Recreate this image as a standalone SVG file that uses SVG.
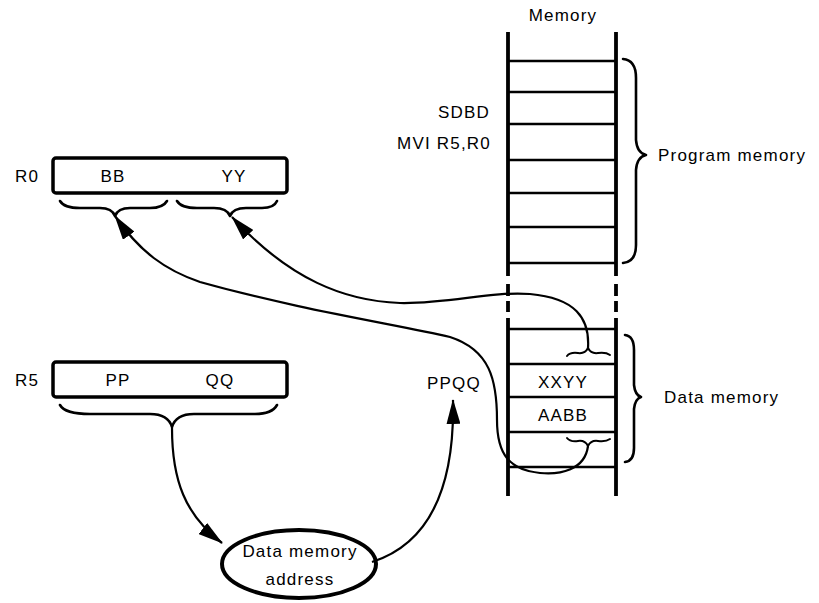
<svg xmlns="http://www.w3.org/2000/svg" width="819" height="603" viewBox="0 0 819 603">
<defs>
<style>
text{font-family:"Liberation Sans",Arial,sans-serif;font-size:17px;fill:#000;letter-spacing:1.2px}
.c{text-anchor:middle}
.r{text-anchor:end}
.col{stroke:#000;stroke-width:3.8;fill:none}
.row{stroke:#000;stroke-width:2.5;fill:none}
.reg{stroke:#000;stroke-width:3.5;fill:#fff}
.br{stroke:#000;stroke-width:2.6;fill:none;stroke-linecap:round;stroke-linejoin:round}
.sbr{stroke:#000;stroke-width:2;fill:none;stroke-linecap:round}
.conn{stroke:#000;stroke-width:2.2;fill:none}
</style>
<marker id="ah" viewBox="0 0 25 14" refX="24" refY="7" markerWidth="25" markerHeight="14" markerUnits="userSpaceOnUse" orient="auto">
<path d="M0,0 L25,7 L0,14 Z" fill="#000"/>
</marker>
</defs>
<rect width="819" height="603" fill="#fff"/>

<g id="memory">
<text class="c" x="563" y="21">Memory</text>
<path class="col" d="M508,32 V276 M508,284 V296 M508,301 V312 M508,318 V496"/>
<path class="col" d="M616,32 V276 M616,284 V296 M616,301 V312 M616,318 V496"/>
<path class="row" d="M508,61 H616 M508,92 H616 M508,124 H616 M508,160 H616 M508,193 H616 M508,227 H616 M508,263 H616"/>
<path class="row" d="M508,329 H616 M508,364 H616 M508,397 H616 M508,432 H616 M508,467 H616"/>
<text class="r" x="490" y="118">SDBD</text>
<text class="r" x="491" y="149">MVI R5,R0</text>
<text class="c" x="563" y="388">XXYY</text>
<text class="c" x="563" y="421">AABB</text>
<path class="sbr" d="M567,356 Q570,352 578,353 Q585,354 588,348 Q591,354 598,353 Q606,352 610,355"/>
<path class="sbr" d="M567,438 Q570,442 578,441 Q585,440 588,446 Q591,440 598,441 Q606,442 610,439"/>
</g>

<g id="program-memory">
<path class="br" d="M623,59 Q636,60 636,78 L636,140 Q637,153 646,155 Q637,157 636,170 L636,245 Q636,262 623,263"/>
<text x="658" y="161">Program memory</text>
</g>

<g id="data-memory">
<path class="br" d="M625,335 Q634,336 634,350 L634,385 Q635,395 641,397 Q635,399 634,409 L634,448 Q634,461 625,462"/>
<text x="664" y="403">Data memory</text>
</g>

<g id="r0">
<text x="15" y="182">R0</text>
<rect class="reg" x="53" y="158" width="234" height="35" rx="3"/>
<text class="c" x="113" y="182">BB</text>
<text class="c" x="234" y="182">YY</text>
<path class="br" d="M60,201 Q64,208 80,208 L100,208 Q112,208 115,216 Q118,208 130,208 L150,208 Q163,208 167,201"/>
<path class="br" d="M177,201 Q181,208 197,208 L214,208 Q227,208 230,216 Q233,208 246,208 L262,208 Q274,208 277,201"/>
</g>

<g id="r5">
<text x="15" y="386">R5</text>
<rect class="reg" x="53" y="362" width="234" height="35" rx="3"/>
<text class="c" x="118" y="386">PP</text>
<text class="c" x="220" y="386">QQ</text>
<path class="br" d="M60,405 Q65,414 90,414 L150,414 Q168,414 172,427 Q176,414 194,414 L255,414 Q272,414 277,405"/>
</g>

<g id="address">
<ellipse cx="299" cy="564" rx="77" ry="34" fill="#fff" stroke="#000" stroke-width="4"/>
<text class="c" x="300" y="557">Data memory</text>
<text class="c" x="300" y="585">address</text>
</g>

<g id="ppqq">
<text class="c" x="454" y="389">PPQQ</text>
</g>

<g id="connectors">
<path class="conn" marker-end="url(#ah)" d="M588,348 C590,318 575,298 530,294 C490,291 450,304 400,303 C345,301 290,280 232,217"/>
<path class="conn" marker-end="url(#ah)" d="M588,446 C585,470 560,475 540,473 C510,470 497,455 497,420 C497,380 490,350 450,337 C400,325 300,310 200,282 C165,270 140,252 115,216"/>
<path class="conn" marker-end="url(#ah)" d="M172,428 C172,480 185,515 222,543"/>
<path class="conn" marker-end="url(#ah)" d="M372,562 C425,545 455,495 453,400"/>
</g>
</svg>
